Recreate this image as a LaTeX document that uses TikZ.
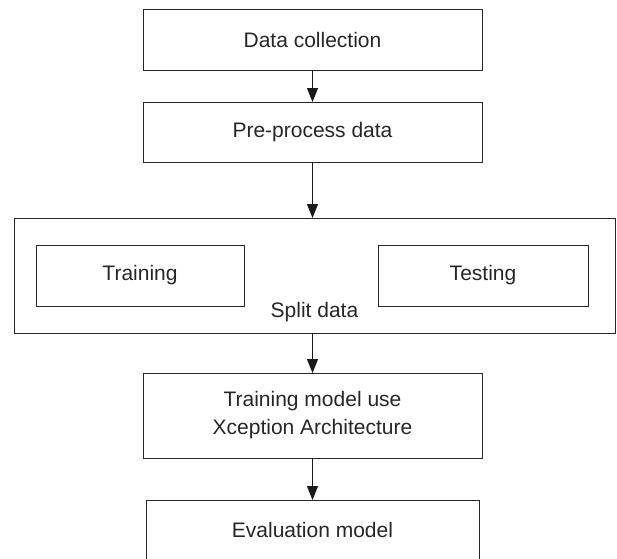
\documentclass[tikz,border=0pt]{standalone}
\usepackage{fontspec}
\setmainfont{Liberation Sans}
\usepackage{tikz}
\usetikzlibrary{arrows.meta}
\tikzset{>={Triangle[length=14pt,width=11pt]}}
\tikzset{
    stagebox/.style={draw=black!85, line width=1pt, inner sep=0pt, outer sep=0pt,
        align=center, text=black!85, font=\fontsize{21}{28}\selectfont},
    flow/.style={->, draw=black!90, line width=1pt}
}

\begin{document}
\begin{tikzpicture}[x=1pt,y=-1pt]
    \useasboundingbox (0,0) rectangle (617,558);
    \clip (0,0) rectangle (617,558);

    % Draw the stages
    \node[stagebox, minimum width=339pt, minimum height=61pt] (collect) at (312.5,39.5) {Data collection};
    \node[stagebox, minimum width=339pt, minimum height=60pt] (prep) at (312.5,132) {Pre-process data};

    % Split box with the two parts inside
    \node[stagebox, minimum width=601pt, minimum height=115pt] (split) at (314.5,275.5) {};
    \node[stagebox, minimum width=208pt, minimum height=61pt] (train) at (140,275.5) {Training};
    \node[stagebox, minimum width=210pt, minimum height=61pt] (test) at (483,275.5) {Testing};
    \node[text=black!85, font=\fontsize{21}{28}\selectfont, inner sep=0pt] (splitlabel) at (314.5,312) {Split data};

    \node[stagebox, minimum width=339pt, minimum height=85pt] (model) at (312.5,415.5) {Training model use\\Xception Architecture};
    \node[stagebox, minimum width=333pt, minimum height=60pt] (eval) at (312.5,530) {Evaluation model};

    % Draw arrows
    \draw[flow] (collect) -- (prep);
    \draw[flow] (prep.south) -- (prep.south |- split.north);
    \draw[flow] (split.south -| model.north) -- (model.north);
    \draw[flow] (model) -- (eval);
\end{tikzpicture}
\end{document}
